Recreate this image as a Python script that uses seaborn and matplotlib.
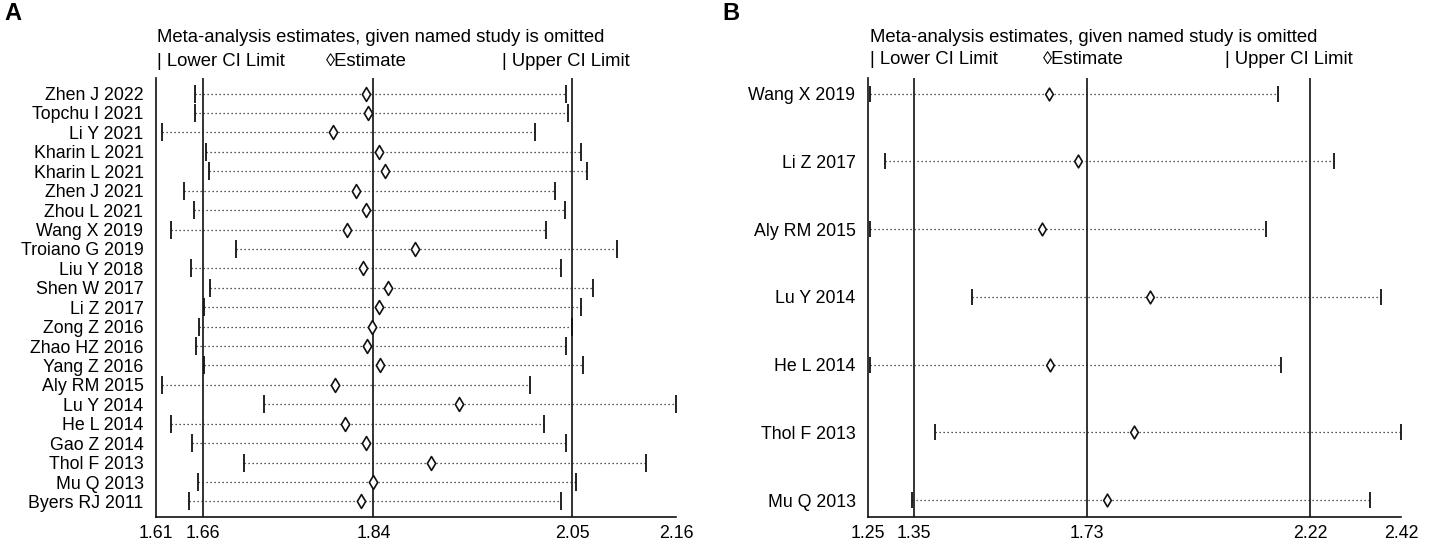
import matplotlib
matplotlib.use("Agg")
import matplotlib.pyplot as plt
import seaborn as sns
import pandas as pd

# ---------------- data: panel A ----------------
studies_A = ["Zhen J 2022", "Topchu I 2021", "Li Y 2021", "Kharin L 2021", "Kharin L 2021",
             "Zhen J 2021", "Zhou L 2021", "Wang X 2019", "Troiano G 2019", "Liu Y 2018",
             "Shen W 2017", "Li Z 2017", "Zong Z 2016", "Zhao HZ 2016", "Yang Z 2016",
             "Aly RM 2015", "Lu Y 2014", "He L 2014", "Gao Z 2014", "Thol F 2013",
             "Mu Q 2013", "Byers RJ 2011"]
lower_A = [1.651, 1.651, 1.616, 1.663, 1.666, 1.640, 1.650, 1.626, 1.695, 1.647,
           1.667, 1.661, 1.655, 1.652, 1.661, 1.616, 1.724, 1.626, 1.648, 1.703,
           1.654, 1.645]
est_A = [1.832, 1.834, 1.797, 1.846, 1.852, 1.822, 1.832, 1.812, 1.884, 1.829,
         1.855, 1.846, 1.838, 1.833, 1.847, 1.799, 1.930, 1.810, 1.832, 1.901,
         1.839, 1.827]
upper_A = [2.044, 2.046, 2.011, 2.059, 2.066, 2.032, 2.043, 2.022, 2.098, 2.038,
           2.072, 2.060, 2.050, 2.044, 2.062, 2.006, 2.160, 2.020, 2.044, 2.128,
           2.054, 2.038]
ticks_A = [1.61, 1.66, 1.84, 2.05, 2.16]
reflines_A = [1.66, 1.84, 2.05]

# ---------------- data: panel B ----------------
studies_B = ["Wang X 2019", "Li Z 2017", "Aly RM 2015", "Lu Y 2014", "He L 2014",
             "Thol F 2013", "Mu Q 2013"]
lower_B = [1.254, 1.287, 1.254, 1.479, 1.255, 1.397, 1.347]
est_B = [1.648, 1.711, 1.631, 1.870, 1.650, 1.834, 1.774]
upper_B = [2.151, 2.272, 2.123, 2.376, 2.157, 2.420, 2.352]
ticks_B = [1.25, 1.35, 1.73, 2.22, 2.42]
reflines_B = [1.35, 1.73, 2.22]

title_txt = "Meta-analysis estimates, given named study is omitted"

sns.set_theme(style="white")
plt.rcParams["font.family"] = ["Liberation Sans", "DejaVu Sans"]
plt.rcParams["text.color"] = "black"
plt.rcParams["xtick.color"] = "black"
plt.rcParams["ytick.color"] = "black"

W, H = 1438, 544
fig = plt.figure(figsize=(W / 100, H / 100), dpi=100)

def px_axes(left, right, top, bottom):
    return fig.add_axes([left / W, 1 - bottom / H, (right - left) / W, (bottom - top) / H])

def draw_panel(ax, studies, lower, upper, est, ticks, reflines, ylim, barsize, dsize):
    n = len(studies)
    df = pd.DataFrame({"study": studies, "row": list(range(n)),
                       "lower": lower, "upper": upper, "est": est})
    ax.hlines(df["row"], df["lower"], df["upper"], colors="#222222",
              linestyles=(0, (1, 2.2)), linewidth=0.9, zorder=2)
    for rl in reflines:
        ax.axvline(rl, color="#111111", linewidth=1.2, zorder=1)
    sns.scatterplot(data=df, x="lower", y="row", marker="|", s=barsize, color="#111111",
                    linewidth=1.3, ax=ax, zorder=3, legend=False)
    sns.scatterplot(data=df, x="upper", y="row", marker="|", s=barsize, color="#111111",
                    linewidth=1.3, ax=ax, zorder=3, legend=False)
    sns.scatterplot(data=df, x="est", y="row", marker="d", s=dsize, facecolor="white",
                    edgecolor="#111111", linewidth=1.2, ax=ax, zorder=4, legend=False)
    ax.set_xlim(ticks[0], ticks[-1])
    ax.set_ylim(ylim)
    ax.set_yticks(range(n))
    ax.set_yticklabels(studies, fontsize=12.8)
    ax.set_xticks(ticks)
    ax.set_xticklabels([f"{t:.2f}" for t in ticks], fontsize=12.8)
    ax.tick_params(axis="y", length=0, pad=9)
    ax.tick_params(axis="x", direction="in", length=6, width=1.2, pad=6)
    ax.set_xlabel("")
    ax.set_ylabel("")
    for s in ["top", "right"]:
        ax.spines[s].set_visible(False)
    for s in ["left", "bottom"]:
        ax.spines[s].set_color("#111111")
        ax.spines[s].set_linewidth(1.2)
    ax.patch.set_alpha(0)

axA = px_axes(156, 676, 78, 517)
draw_panel(axA, studies_A, lower_A, upper_A, est_A, ticks_A, reflines_A, (21.8, -0.8), 170, 50)

axB = px_axes(868, 1401, 78, 517)
draw_panel(axB, studies_B, lower_B, upper_B, est_B, ticks_B, reflines_B, (6.25, -0.23), 130, 42)

def header(x0, xe, xu, ytitle, yleg):
    fig.text(x0 / W, 1 - ytitle / H, title_txt, fontsize=13.3, va="center", ha="left")
    fig.text(x0 / W, 1 - yleg / H, "| Lower CI Limit", fontsize=13.3, va="center", ha="left")
    fig.text(xe / W, 1 - yleg / H, "\u25caEstimate", fontsize=13.3, va="center", ha="left")
    fig.text(xu / W, 1 - yleg / H, "| Upper CI Limit", fontsize=13.3, va="center", ha="left")

header(157, 326, 502, 38, 61)
header(870, 1043, 1225, 38, 60)

fig.text(4 / W, 1 - 14 / H, "A", fontsize=17, fontweight="bold", va="center", ha="left")
fig.text(722 / W, 1 - 14 / H, "B", fontsize=17, fontweight="bold", va="center", ha="left")

fig.savefig("out.png", dpi=100)
